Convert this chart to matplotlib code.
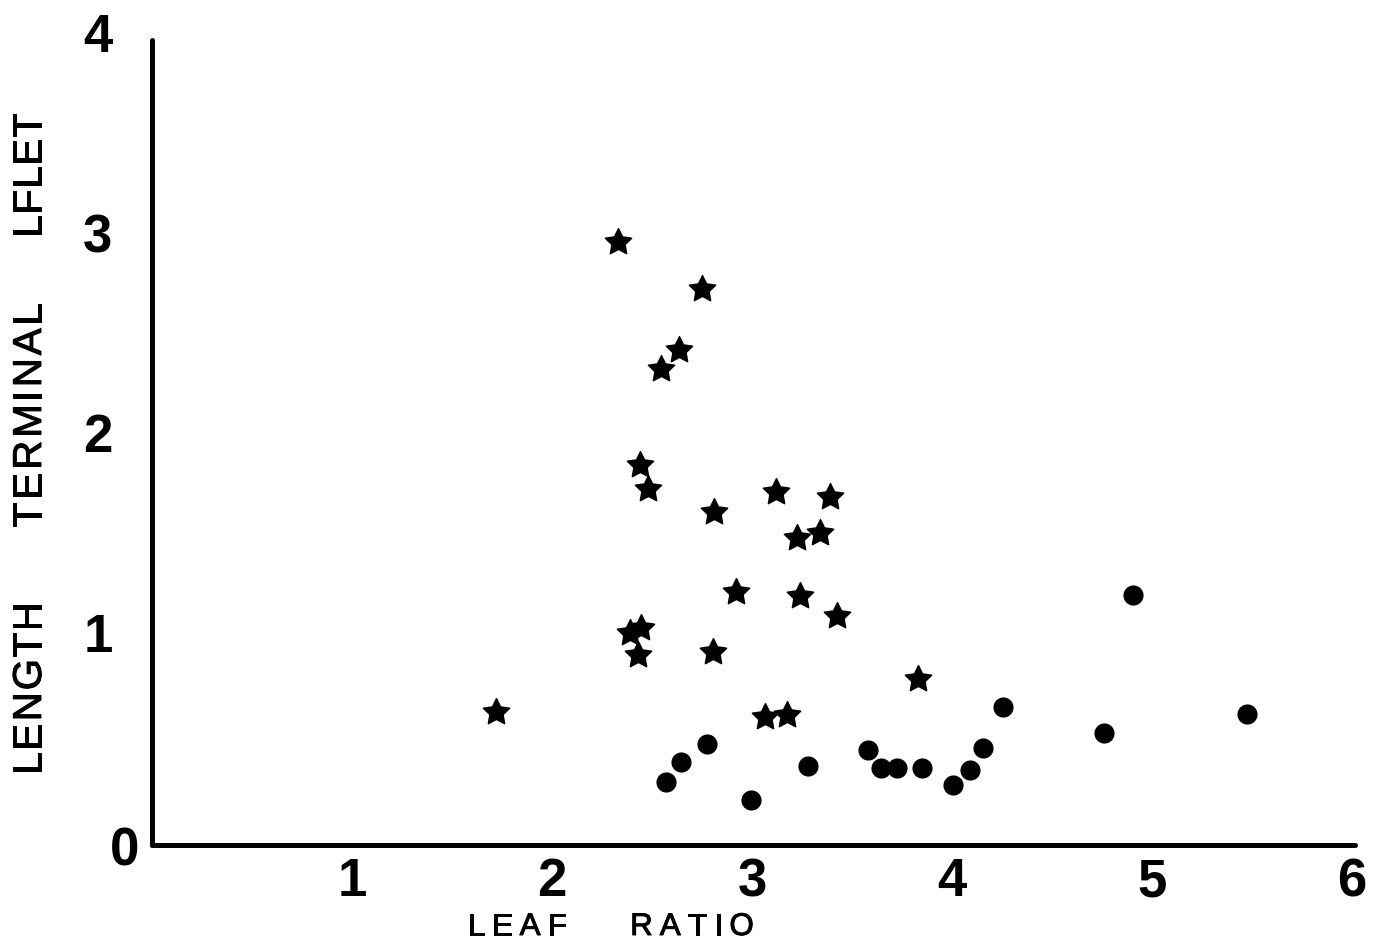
import matplotlib
matplotlib.use("Agg")
import matplotlib.pyplot as plt
import matplotlib.patheffects as pe
from matplotlib.path import Path
from matplotlib.transforms import IdentityTransform, ScaledTranslation

# Leaf ratio vs. terminal leaflet length
star_ratio = [1.72, 2.33, 2.75, 2.635, 2.545, 2.44, 2.48, 2.81, 3.12, 3.39, 3.225,
              3.34, 2.92, 3.24, 3.425, 2.39, 2.445, 2.43, 2.805, 3.83, 3.065, 3.175]
star_length = [0.665, 3.015, 2.78, 2.475, 2.38, 1.90, 1.78, 1.665, 1.765, 1.74, 1.535,
               1.56, 1.265, 1.245, 1.145, 1.06, 1.085, 0.95, 0.965, 0.83, 0.64, 0.65]

dot_ratio = [2.57, 2.645, 2.775, 2.995, 3.28, 3.58, 3.645, 3.725, 3.85, 4.005,
             4.09, 4.155, 4.255, 4.76, 4.905, 5.475]
dot_length = [0.315, 0.415, 0.505, 0.225, 0.395, 0.475, 0.385, 0.385, 0.385, 0.30,
              0.375, 0.485, 0.69, 0.56, 1.25, 0.655]

x_ticks = [1, 2, 3, 4, 5, 6]
y_ticks = [1, 2, 3, 4]

W, H = 1380, 952
fig = plt.figure(figsize=(W / 100, H / 100), dpi=100)
fig.patch.set_facecolor("white")
ax = fig.add_axes([152 / W, 107 / H, 1203 / W, 805 / H])

fat_star = Path.unit_regular_star(5, 0.5)
ax.plot(star_ratio, star_length, linestyle="none", marker=fat_star,
        markersize=20, color="black", markeredgewidth=1.0, markeredgecolor="black")
ax.plot(dot_ratio, dot_length, linestyle="none", marker="o",
        markersize=14.5, color="black", markeredgewidth=0)

ax.set_xlim(0, 6.015)
ax.set_ylim(0, 4.025)
for side in ("top", "right"):
    ax.spines[side].set_visible(False)
for side in ("left", "bottom"):
    ax.spines[side].set_linewidth(3.6)
    ax.spines[side].set_capstyle("round")

tick_font = dict(family="Liberation Sans", weight="bold", size=38)
ax.set_xticks(x_ticks)
ax.set_xticklabels([str(v) for v in x_ticks], **tick_font)
ax.set_yticks(y_ticks)
ax.set_yticklabels([str(v) for v in y_ticks], **tick_font)
ax.tick_params(axis="both", length=0)
ax.tick_params(axis="x", pad=9)
ax.tick_params(axis="y", pad=39)
lift = ScaledTranslation(0, 9 / 72, fig.dpi_scale_trans)
for lbl in ax.get_yticklabels():
    lbl.set_horizontalalignment("center")
    lbl.set_transform(lbl.get_transform() + lift)
ax.annotate("0", xy=(0, 0), xytext=(-27, -7), textcoords="offset pixels",
            ha="center", va="center", **tick_font)

renderer = fig.canvas.get_renderer()
heavier = [pe.withStroke(linewidth=0.7, foreground="black")]


def advance(ch, size):
    def width(s):
        t = fig.text(0, 0, s, family="Liberation Sans", fontsize=size)
        w = t.get_window_extent(renderer).width
        t.remove()
        return w
    return width("H" + ch + "H") - width("HH")


def tracked(word, cx, cy, size, track, rotation=0):
    advs = [advance(ch, size) for ch in word]
    total = sum(advs) + track * (len(word) - 1)
    pos = -total / 2
    for ch, a in zip(word, advs):
        c = pos + a / 2
        x, y = (cx, cy + c) if rotation == 90 else (cx + c, cy)
        fig.text(x, y, ch, transform=IdentityTransform(), rotation=rotation,
                 ha="center", va="center", family="Liberation Sans", fontsize=size,
                 path_effects=heavier)
        pos += a + track


# y axis title, read bottom to top
tracked("LENGTH", 30, H - 688, 29, 2, rotation=90)
tracked("TERMINAL", 30, H - 415, 29, 3, rotation=90)
tracked("LFLET", 30, H - 175, 29, 1, rotation=90)

# x axis title
tracked("LEAF", 517, H - 927, 22.5, 7)
tracked("RATIO", 692, H - 927, 22.5, 7)

fig.savefig("out.png", dpi=100, facecolor="white")
